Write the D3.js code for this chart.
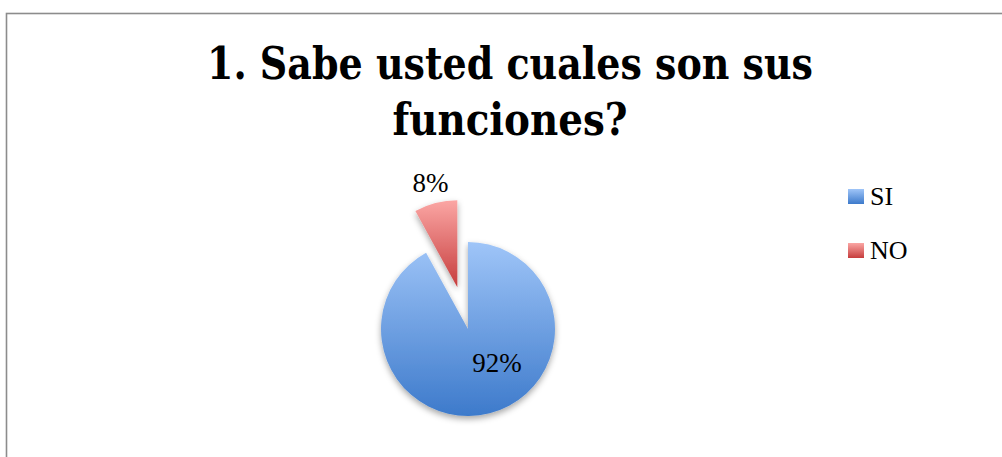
<!DOCTYPE html>
<html>
<head>
<meta charset="utf-8">
<script src="https://cdn.jsdelivr.net/npm/d3@7/dist/d3.min.js"></script>
<style>
  html, body { margin: 0; padding: 0; background: #fff; }
  svg { display: block; }
</style>
</head>
<body>
<script>
// Survey answers for question 1
const categories = ["SI", "NO"];
const values = [92, 8];
const labels = ["92%", "8%"];
const titleLines = ["1. Sabe usted cuales son sus", "funciones?"];

const W = 1002, H = 457;
const svg = d3.select("body").append("svg").attr("width", W).attr("height", H);
const defs = svg.append("defs");

// vertical gradients for each slice colour
const grads = [
  { id: "g-si", top: "#9fc5f8", bottom: "#3d7acb" },
  { id: "g-no", top: "#fba6a4", bottom: "#c63d3d" }
];
grads.forEach(g => {
  const lg = defs.append("linearGradient").attr("id", g.id)
    .attr("x1", 0).attr("y1", 0).attr("x2", 0).attr("y2", 1);
  lg.append("stop").attr("offset", "0%").attr("stop-color", g.top);
  lg.append("stop").attr("offset", "100%").attr("stop-color", g.bottom);
});
const color = d3.scaleOrdinal().domain(categories).range(grads.map(g => `url(#${g.id})`));

const shadow = defs.append("filter").attr("id", "shadow")
  .attr("x", "-30%").attr("y", "-30%").attr("width", "160%").attr("height", "160%");
shadow.append("feDropShadow").attr("dx", 0).attr("dy", 3).attr("stdDeviation", 3)
  .attr("flood-color", "#000").attr("flood-opacity", 0.35);

// chart frame
svg.append("rect").attr("x", 6.5).attr("y", 13.5).attr("width", 1010).attr("height", 470)
  .attr("fill", "none").attr("stroke", "#8c8c8c").attr("stroke-width", 1.6);

// title
const title = svg.append("text").attr("text-anchor", "middle")
  .attr("font-family", "'DejaVu Serif Condensed', 'DejaVu Serif', serif").attr("font-weight", "bold")
  .attr("font-size", 45).attr("fill", "#000");
title.append("tspan").attr("x", 510).attr("y", 79).text(titleLines[0])
  .attr("textLength", 606).attr("lengthAdjust", "spacingAndGlyphs");
title.append("tspan").attr("x", 510).attr("y", 135).text(titleLines[1])
  .attr("textLength", 235).attr("lengthAdjust", "spacingAndGlyphs");

// pie
const cx = 468, cy = 329, R = 87, explode = 43;
const pie = d3.pie().sort(null).value(d => d.value);
const data = categories.map((c, i) => ({ cat: c, value: values[i], label: labels[i] }));
const arcs = pie(data);
const arc = d3.arc().innerRadius(0).outerRadius(R);

const g = svg.append("g").attr("transform", `translate(${cx},${cy})`);
g.selectAll("path").data(arcs).join("path")
  .attr("d", arc)
  .attr("fill", d => color(d.data.cat))
  .attr("filter", "url(#shadow)")
  .attr("transform", d => {
    if (d.data.cat !== "NO") return null;
    const a = (d.startAngle + d.endAngle) / 2;
    return `translate(${explode * Math.sin(a)},${-explode * Math.cos(a)})`;
  });

// data labels
const labelFont = "'Liberation Serif', serif";
g.selectAll("text.lbl").data(arcs).join("text")
  .attr("class", "lbl")
  .attr("text-anchor", "middle")
  .attr("font-family", labelFont).attr("font-size", 27).attr("fill", "#000")
  .attr("x", d => {
    if (d.data.cat === "NO") {
      const a = (d.startAngle + d.endAngle) / 2;
      return 151 * Math.sin(a);
    }
    return 29;
  })
  .attr("y", d => {
    if (d.data.cat === "NO") {
      const a = (d.startAngle + d.endAngle) / 2;
      return -151 * Math.cos(a) + 9;
    }
    return 43;
  })
  .text(d => d.data.label);

// legend
const legend = svg.append("g").attr("transform", "translate(848,189)");
const items = legend.selectAll("g").data(categories).join("g")
  .attr("transform", (d, i) => `translate(0,${i * 54})`);
items.append("rect").attr("width", 16).attr("height", 15).attr("fill", d => color(d));
items.append("text").attr("x", 22).attr("y", 16)
  .attr("font-family", labelFont).attr("font-size", 26).attr("fill", "#000")
  .text(d => d);
</script>
</body>
</html>
